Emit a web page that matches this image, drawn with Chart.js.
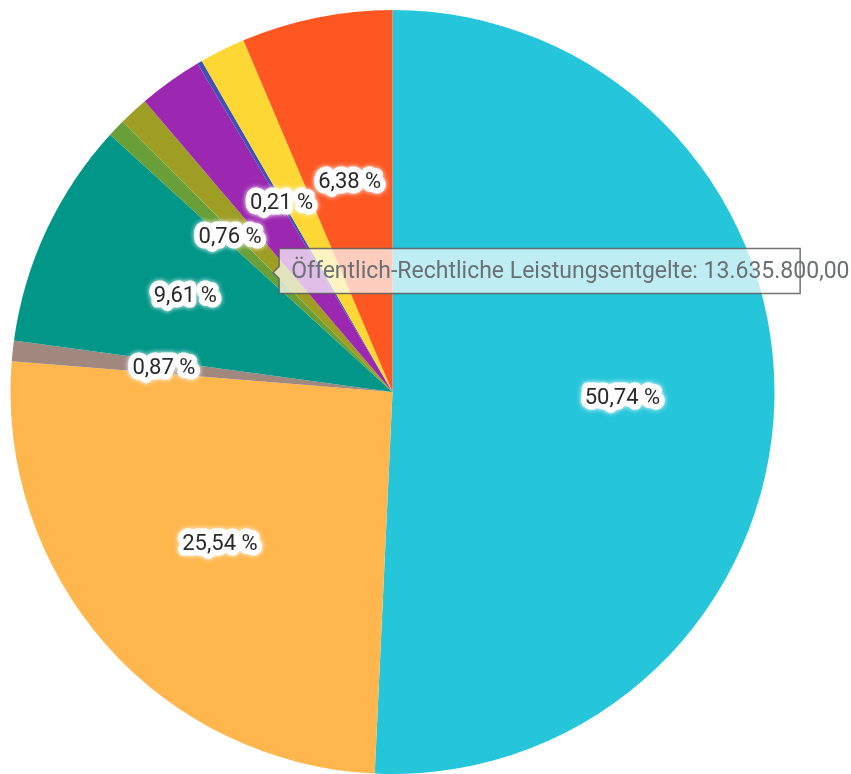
<!DOCTYPE html>
<html>
<head>
<meta charset="utf-8">
<script src="https://cdn.jsdelivr.net/npm/chart.js@4/dist/chart.umd.min.js"></script>
<style>
  html, body { margin: 0; padding: 0; background: #ffffff; overflow: hidden; }
  #wrap { width: 851px; height: 774px; position: relative; }
</style>
</head>
<body>
<div id="wrap"><canvas id="c"></canvas></div>
<script>
// ---- data (percent shares) ----
const categories = [
  "Anteil A", "Anteil B", "Anteil C", "Anteil D", "Anteil E",
  "Öffentlich-Rechtliche Leistungsentgelte", "Anteil G", "Anteil H", "Anteil I", "Anteil J"
];
const shares = [50.74, 25.54, 0.87, 9.61, 0.76, 1.25, 2.70, 0.21, 1.94, 6.38];
const showLabel = [true, true, true, true, true, false, false, true, false, true];
const sliceColors = [
  "#26C6DA", "#FFB74D", "#A1887F", "#009688", "#689F38",
  "#9E9D24", "#9C27B0", "#3F51B5", "#FDD835", "#FF5722"
];
const hoveredIndex = 5;
const hoveredValueText = "13.635.800,00";

function fmtPct(v) {
  return v.toFixed(2).replace(".", ",") + " %";
}

const labelPlugin = {
  id: "sliceLabels",
  afterDatasetsDraw(chart) {
    const ctx = chart.ctx;
    const meta = chart.getDatasetMeta(0);
    ctx.save();
    ctx.font = "22px Roboto";
    ctx.textAlign = "center";
    ctx.textBaseline = "middle";
    ctx.lineJoin = "round";
    meta.data.forEach((arc, i) => {
      if (!showLabel[i]) return;
      const p = arc.getProps(["x", "y", "startAngle", "endAngle", "outerRadius"], true);
      const mid = (p.startAngle + p.endAngle) / 2;
      // labels near the top sit a little closer to the centre
      const s = Math.min(0, Math.sin(mid));
      const r = p.outerRadius * (0.602 + 0.042 * s * s * s);
      const x = p.x + Math.cos(mid) * r;
      const y = p.y + Math.sin(mid) * r + 1;
      const t = fmtPct(shares[i]);
      ctx.strokeStyle = "#ffffff";
      ctx.shadowColor = "rgba(255,255,255,1)";
      ctx.shadowBlur = 5;
      ctx.lineWidth = 11;
      ctx.strokeText(t, x, y);
      ctx.shadowBlur = 0;
      ctx.lineWidth = 8;
      ctx.strokeText(t, x, y);
      ctx.fillStyle = "#2a2a2a";
      ctx.fillText(t, x, y);
    });
    ctx.restore();
  }
};

const tipPlugin = {
  id: "fixedTip",
  afterDraw(chart) {
    const ctx = chart.ctx;
    const arc = chart.getDatasetMeta(0).data[hoveredIndex];
    const p = arc.getProps(["x", "y", "startAngle", "endAngle", "outerRadius"], true);
    const ang = p.startAngle + (p.endAngle - p.startAngle) * 0.1;
    const r = p.outerRadius * 0.446;
    const cx = p.x + Math.cos(ang) * r;
    const cy = p.y + Math.sin(ang) * r + 2;
    const caret = 6, boxW = 521, boxH = 45;
    const bx = cx + caret, by = cy - 24;
    ctx.save();
    ctx.beginPath();
    ctx.moveTo(bx, by);
    ctx.lineTo(bx + boxW, by);
    ctx.lineTo(bx + boxW, by + boxH);
    ctx.lineTo(bx, by + boxH);
    ctx.lineTo(bx, cy + caret);
    ctx.lineTo(cx, cy);
    ctx.lineTo(bx, cy - caret);
    ctx.closePath();
    ctx.fillStyle = "rgba(255,255,255,0.7)";
    ctx.fill();
    ctx.strokeStyle = "rgba(90,90,90,0.85)";
    ctx.lineWidth = 1.5;
    ctx.stroke();
    ctx.font = "23px Roboto";
    ctx.fillStyle = "#6b7074";
    ctx.textAlign = "left";
    ctx.textBaseline = "middle";
    ctx.fillText(categories[hoveredIndex] + ": " + hoveredValueText, bx + 12, by + boxH / 2 + 1);
    ctx.restore();
  }
};

new Chart(document.getElementById("c"), {
  type: "pie",
  data: {
    labels: categories,
    datasets: [{
      data: shares,
      backgroundColor: sliceColors,
      borderWidth: 0
    }]
  },
  options: {
    responsive: true,
    maintainAspectRatio: false,
    animation: false,
    layout: { padding: { left: 10, top: 10, right: 76, bottom: 0 } },
    plugins: {
      legend: { display: false },
      tooltip: { enabled: false }
    },
    events: []
  },
  plugins: [labelPlugin, tipPlugin]
});
</script>
</body>
</html>
